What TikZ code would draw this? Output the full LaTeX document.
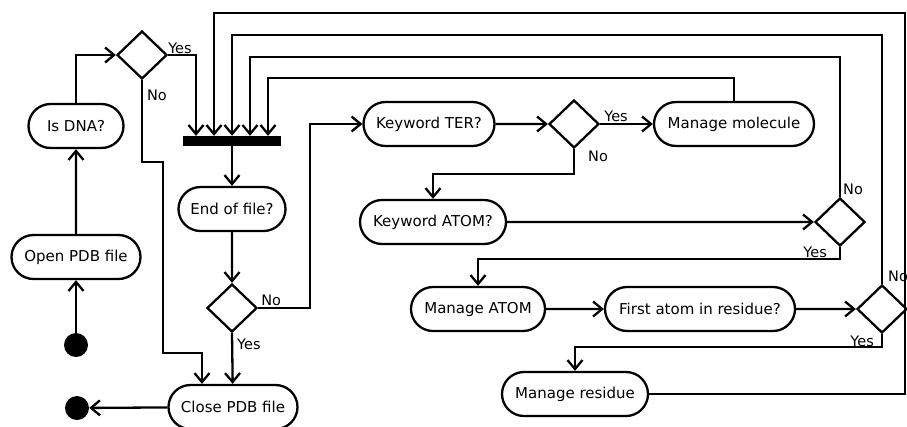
\documentclass[tikz,border=0pt]{standalone}
\usepackage{fontspec}
\setmainfont{DejaVu Sans}
\usetikzlibrary{positioning, shapes.misc, shapes.geometric, arrows.meta}

\tikzset{
  act/.style={rounded rectangle, draw, line width=2.3pt, minimum height=44pt,
    inner xsep=2pt, font=\fontsize{15}{17}\selectfont},
  decision/.style={diamond, draw, line width=2.3pt, minimum width=50pt,
    minimum height=48pt, inner sep=0pt},
  dot/.style={circle, fill=black, minimum size=24pt, inner sep=0pt},
  syncbar/.style={rectangle, fill=black, minimum width=98pt,
    minimum height=10pt, inner sep=0pt},
  flow/.style={line width=2.3pt, -{Straight Barb[length=9pt, width=15pt]}},
  lbl/.style={font=\fontsize{14.5}{16}\selectfont, inner sep=1pt},
}

\begin{document}
\begin{tikzpicture}[x=1pt, y=-1pt]
  \useasboundingbox (0,0) rectangle (907,426);

  % Start and stop
  \node[dot] (start) at (76,345) {};
  \node[act, minimum width=133pt] (open) at (76,257) {Open PDB file};
  \node[act, minimum width=99pt] (isdna) at (76,126) {Is DNA?};
  \node[decision] (dna) at (142,55) {};
  \node[syncbar] (bar) at (232,141) {};
  \node[act, minimum width=111pt] (eof) at (232,209) {End of file?};
  \node[decision] (dend) at (232,308) {};
  \node[act, minimum width=133pt] (close) at (233,407) {Close PDB file};
  \node[dot] (stop) at (77,408) {};

  % Read loop
  \node[act, minimum width=135pt] (ter) at (429,124) {Keyword TER?};
  \node[decision] (dter) at (574,124) {};
  \node[act, minimum width=164pt] (mol) at (734,124) {Manage molecule};
  \node[act, minimum width=150pt] (atom) at (433,222) {Keyword ATOM?};
  \node[decision] (datom) at (840,222) {};
  \node[act, minimum width=138pt] (matom) at (478,309) {Manage ATOM};
  \node[act, minimum width=194pt] (first) at (700,309) {First atom in residue?};
  \node[decision] (dfirst) at (882,309) {};
  \node[act, minimum width=150pt] (res) at (575,394) {Manage residue};

  \draw[flow] (start) -- (open);
  \draw[flow] (open) -- (isdna);
  \draw[flow] (isdna.north) |- (dna.west);
  \draw[flow] (dna.east) node[lbl, anchor=south west, xshift=-2pt, yshift=-1pt] {Yes}
    -| ([xshift=-36pt]bar.north);
  \draw[flow] (dna.south) node[lbl, anchor=north west, xshift=3pt, yshift=-8pt] {No}
    |- (163,162) -- (163,353) -| ([xshift=-31pt]close.north);
  \draw[flow] (bar) -- (eof);
  \draw[flow] (eof) -- (dend);
  \draw[flow] (dend.south) node[lbl, anchor=north west, xshift=3pt, yshift=-4pt] {Yes}
    -- (close);
  \draw[flow] (dend.east) node[lbl, anchor=south west, xshift=1pt] {No}
    -- (310,308) |- (ter.west);
  \draw[flow] (close) -- (stop);

  \draw[flow] (ter) -- (dter);
  \draw[flow] (dter.east) node[lbl, anchor=south west, xshift=2pt] {Yes} -- (mol);
  \draw[flow] (dter.south) node[lbl, anchor=north west, xshift=12pt] {No}
    -- (574,174) -| (atom.north);
  \draw[flow] (mol.north) -- (734,78) -| ([xshift=36pt]bar.north);
  \draw[flow] (atom) -- (datom);
  \draw[flow] (datom.north) node[lbl, anchor=south west, xshift=1pt] {No}
    -- (840,57) -| ([xshift=18pt]bar.north);
  \draw[flow] (datom.south) node[lbl, anchor=north east, xshift=-11pt, yshift=2pt] {Yes}
    -- (840,259) -| (matom.north);
  \draw[flow] (matom) -- (first);
  \draw[flow] (first) -- (dfirst);
  \draw[flow] (dfirst.north) node[lbl, anchor=south west, xshift=4pt] {No}
    -- (882,35) -| (bar.north);
  \draw[flow] (dfirst.south) node[lbl, anchor=north east, xshift=-6pt] {Yes}
    -- (882,347) -| (res.north);
  \draw[flow] (res.east) -- (905,394) -- (905,13) -| ([xshift=-18pt]bar.north);
\end{tikzpicture}
\end{document}
